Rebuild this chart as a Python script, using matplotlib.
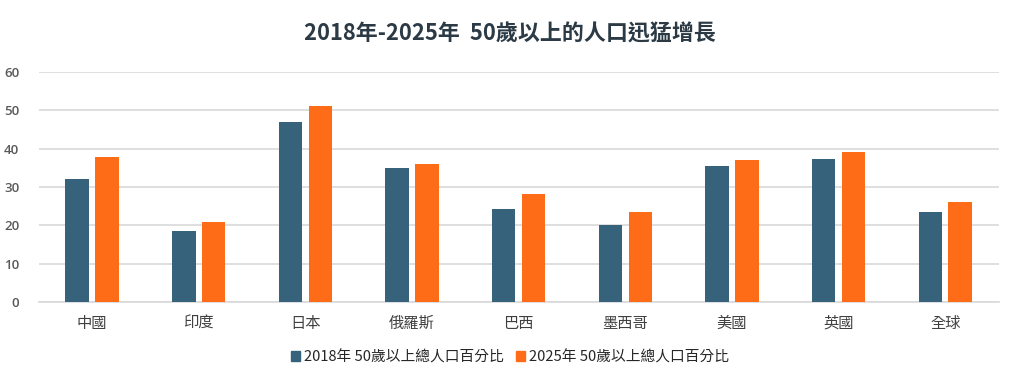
import numpy as np
import matplotlib
matplotlib.use('Agg')
import matplotlib.pyplot as plt
from matplotlib.patches import Patch

plt.rcParams['font.family'] = ['Noto Sans CJK TC', 'DejaVu Sans']

# Data
countries = ['中國', '印度', '日本', '俄羅斯', '巴西', '墨西哥', '美國', '英國', '全球']
pct_2018 = [32.1, 18.6, 46.9, 35.0, 24.3, 20.1, 35.5, 37.3, 23.5]
pct_2025 = [37.9, 21.0, 51.1, 36.0, 28.2, 23.5, 37.0, 39.2, 26.0]
series_names = ['2018年 50歲以上總人口百分比', '2025年 50歲以上總人口百分比']
title = '2018年-2025年  50歲以上的人口迅猛增長'

blue = '#36637B'
orange = '#FF6C17'

fig = plt.figure(figsize=(10.2, 3.88), dpi=100)
ax = fig.add_axes([0.038, 0.2216, 0.941, 0.5928])

x = np.arange(len(countries))
w = 0.22
ax.bar(x - 0.14, pct_2018, w, color=blue, zorder=3)
ax.bar(x + 0.14, pct_2025, w, color=orange, zorder=3)

ax.set_xlim(-0.5, len(countries) - 0.5)
ax.set_ylim(0, 60)
ax.set_yticks(range(0, 61, 10))
ax.grid(axis='y', color='#D9D9D9', linewidth=1.2, zorder=0)
for s in ['top', 'right', 'left']:
    ax.spines[s].set_visible(False)
ax.spines['bottom'].set_color('#D9D9D9')
ax.spines['bottom'].set_linewidth(1.2)
ax.tick_params(length=0)
ax.tick_params(axis='y', pad=14, labelsize=9.5, labelcolor='#595959')
ax.tick_params(axis='x', pad=9, labelsize=11, labelcolor='#404040')
ax.set_xticks(x)
ax.set_xticklabels(countries)
for lbl in ax.get_yticklabels():
    lbl.set_fontfamily(['Open Sans', 'DejaVu Sans'])
    lbl.set_fontweight('semibold')

fig.text(0.5, 0.912, title, ha='center', va='center', fontsize=15.8,
         fontweight='bold', color='#2B3A45')

handles = [Patch(color=blue), Patch(color=orange)]
fig.legend(handles, series_names, loc='center', bbox_to_anchor=(0.5, 0.08),
           ncol=2, frameon=False, fontsize=10.6, handlelength=0.6, handleheight=0.6,
           handletextpad=0.3, columnspacing=0.8, labelcolor='#262626')

fig.savefig('out.png', dpi=100, facecolor='white')
